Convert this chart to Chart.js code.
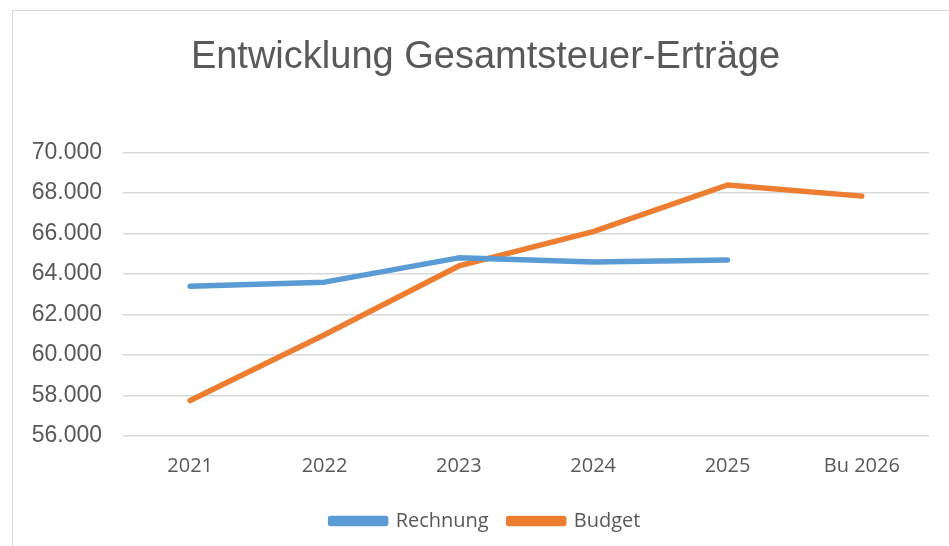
<!DOCTYPE html>
<html>
<head>
<meta charset="utf-8">
<script src="https://cdn.jsdelivr.net/npm/chart.js@4.4.1/dist/chart.umd.min.js"></script>
<style>
  html, body { margin: 0; padding: 0; background: #fff; }
  #wrap { position: relative; width: 949px; height: 546px; }
  #frame {
    position: absolute; left: 12px; top: 10px; right: -2px; bottom: -2px;
    border-left: 1.5px solid #d9d9d9; border-top: 1.5px solid #d9d9d9;
    pointer-events: none;
  }
</style>
</head>
<body>
<div id="wrap">
  <canvas id="js-chart-steuer" width="949" height="546"></canvas>
  <div id="frame"></div>
</div>
<script>
// Chart data
const years = ['2021', '2022', '2023', '2024', '2025', 'Bu 2026'];
const rechnung = [63400, 63600, 64800, 64600, 64700, null];
const budget = [57750, 61000, 64400, 66100, 68400, 67850];
const yTicks = [56000, 58000, 60000, 62000, 64000, 66000, 68000, 70000];

const textGrey = '#595959';

// German thousands separator, e.g. 70.000
function formatDe(v) {
  return String(v).replace(/\B(?=(\d{3})+(?!\d))/g, '.');
}

// Let the y labels reach past the left layout padding (no clipping)
const unclipYLabels = {
  id: 'unclipYLabels',
  afterLayout(chart) {
    chart.scales.y.left = 0;
  }
};

let chartCon = document.getElementById('js-chart-steuer');

let chartData = {
  labels: years,
  datasets: [
    {
      label: 'Rechnung',
      data: rechnung,
      borderColor: '#5b9bd5',
      backgroundColor: '#5b9bd5',
      borderWidth: 5.5,
      pointRadius: 0,
      tension: 0,
      spanGaps: false
    },
    {
      label: 'Budget',
      data: budget,
      borderColor: '#ed7d31',
      backgroundColor: '#ed7d31',
      borderWidth: 5.5,
      pointRadius: 0,
      tension: 0
    }
  ]
};

let chartOptions = {
  responsive: false,
  animation: false,
  layout: {
    padding: { left: 42, right: 20, top: 0, bottom: 5 }
  },
  elements: {
    line: { borderCapStyle: 'round', borderJoinStyle: 'round' }
  },
  scales: {
    x: {
      grid: { display: false, drawTicks: false },
      border: { display: false },
      offset: true,
      ticks: {
        color: textGrey,
        padding: 18,
        maxRotation: 0,
        font: { family: 'Open Sans', size: 20 }
      },
      afterFit: function (scale) { scale.height = 55; }
    },
    y: {
      min: yTicks[0],
      max: yTicks[yTicks.length - 1],
      afterBuildTicks: function (scale) {
        scale.ticks = yTicks.map(v => ({ value: v }));
      },
      grid: { color: '#d9d9d9', lineWidth: 1.5, drawTicks: false },
      border: { display: false },
      ticks: {
        color: textGrey,
        padding: 21,
        font: { family: 'Liberation Sans', size: 23 },
        callback: function (value) { return formatDe(value); }
      },
      afterFit: function (scale) { scale.width = 81; }
    }
  },
  plugins: {
    title: {
      display: true,
      text: 'Entwicklung Gesamtsteuer-Erträge',
      color: textGrey,
      font: { family: 'Liberation Sans', size: 38, weight: 'normal' },
      padding: { top: 35, bottom: 72 }
    },
    legend: {
      position: 'bottom',
      labels: {
        color: textGrey,
        boxWidth: 55,
        boxHeight: 5,
        padding: 20,
        font: { family: 'Open Sans', size: 20 }
      }
    },
    tooltip: { enabled: false }
  }
};

new Chart(chartCon, { type: 'line', data: chartData, options: chartOptions, plugins: [unclipYLabels] });
</script>
</body>
</html>
